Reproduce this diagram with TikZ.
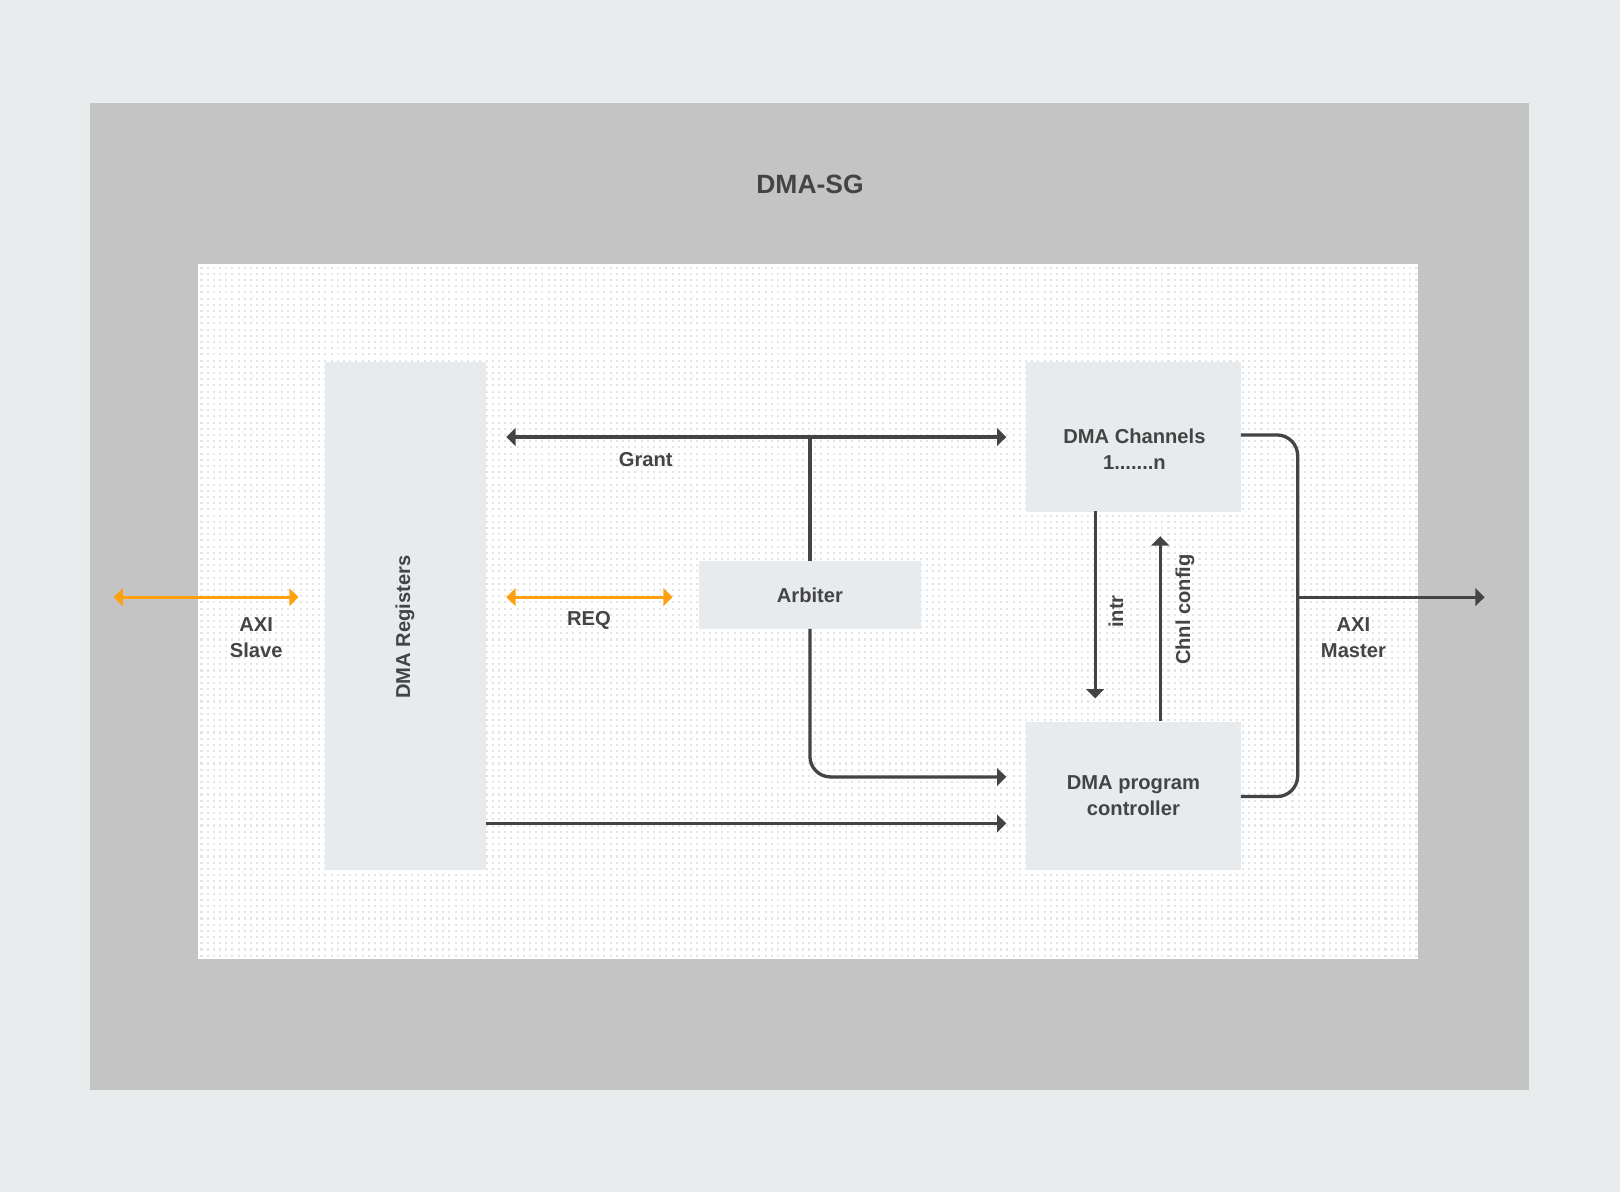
\documentclass[tikz,border=0pt]{standalone}
\usepackage{fontspec}
\setmainfont{Liberation Sans}
\usetikzlibrary{arrows.meta}
\definecolor{bgcol}{HTML}{E8ECED}
\definecolor{outercol}{HTML}{C4C4C4}
\definecolor{boxcol}{HTML}{E8EBED}
\definecolor{inkcol}{HTML}{444444}
\definecolor{orangecol}{HTML}{FFA010}
\definecolor{dotcol}{HTML}{E4E4E4}
\tikzset{
  blk/.style={fill=boxcol, draw=none, inner sep=0pt, anchor=north west},
  lbl/.style={text=inkcol, font=\fontsize{9.75}{12.5}\selectfont\bfseries, align=center, inner sep=0pt},
  conn/.style={draw=inkcol, line width=1.6pt, -{Triangle[length=4.5pt,width=8.5pt]}},
  plain/.style={draw=inkcol, line width=1.6pt},
  biconn/.style={draw=inkcol, line width=1.6pt, {Triangle[length=4.5pt,width=8.5pt]}-{Triangle[length=4.5pt,width=8.5pt]}},
  orbi/.style={draw=orangecol, line width=1.6pt, {Triangle[length=4.5pt,width=8.5pt]}-{Triangle[length=4.5pt,width=8.5pt]}},
}
\begin{document}
\begin{tikzpicture}[x=0.5pt,y=-0.5pt]
\useasboundingbox (0,0) rectangle (1568,1154);
\fill[bgcol] (0,0) rectangle (1568,1154);
\fill[outercol] (87,100) rectangle (1480,1055);
\fill[white] (192,256) rectangle (1372,928);
\begin{scope}
\clip (192,256) rectangle (1372,928);
\foreach \yy in {259,265,...,925}{
  \draw[dotcol, line width=1pt, dash pattern=on 1pt off 2pt] (194,\yy) -- (1372,\yy);
}
\end{scope}
\node[lbl, font=\fontsize{12.8}{15}\selectfont\bfseries] (title) at (784,178) {DMA-SG};
% blocks
\node[blk, minimum width=78pt, minimum height=246pt] (reg) at (314,350) {};
\node[blk, minimum width=104pt, minimum height=72.5pt] (chan) at (993,350) {};
\node[blk, minimum width=107.5pt, minimum height=32.5pt] (arb) at (676,543) {};
\node[blk, minimum width=104pt, minimum height=72pt] (ctrl) at (993,698) {};
\node[lbl, rotate=90] (regtxt) at (392,607) {DMA Registers};
\node[lbl] (chantxt) at (1098,435) {DMA Channels\\1.......n};
\node[lbl] (arbtxt) at (arb.center) {Arbiter};
\node[lbl] (ctrltxt) at (1097,770) {DMA program\\controller};
% coordinates
\coordinate (gl) at (490,423);
\coordinate (gr) at (974,423);
\coordinate (gj) at (784,423);
\coordinate (reql) at (490,578);
\coordinate (reqr) at (651,578);
\coordinate (sl) at (110,578);
\coordinate (sr) at (289,578);
\coordinate (ain) at (974,752);
\coordinate (rin) at (974,797);
\coordinate (rout) at (470,797);
\coordinate (intrs) at (1060,495);
\coordinate (intre) at (1060,676);
\coordinate (cfgs) at (1123,698);
\coordinate (cfge) at (1123,519);
\coordinate (chout) at (1201,421);
\coordinate (ctout) at (1201,771);
\coordinate (busx) at (1256,578);
\coordinate (mout) at (1437,578);
% connectors
\draw[biconn] (gl) -- (gr);
\draw[plain] (arb.north -| gj) -- (gj);
\draw[orbi] (reql) -- (reqr);
\draw[orbi] (sl) -- (sr);
\draw[conn, rounded corners=10pt] (arb.south) |- (ain);
\draw[conn] (rout) -- (rin);
\draw[conn] (intrs) -- (intre);
\draw[conn] (cfgs) -- (cfge);
\draw[plain, rounded corners=10pt] (chout) -| (busx) |- (ctout);
\draw[conn] (busx) -- (mout);
% labels
\node[lbl] (grant) at (625,445) {Grant};
\node[lbl] (req) at (570,601) {REQ};
\node[lbl] (axis) at (248,617) {AXI\\Slave};
\node[lbl] (axim) at (1310,617) {AXI\\Master};
\node[lbl, rotate=90] (intr) at (1080,592) {intr};
\node[lbl, rotate=90] (cfg) at (1147,590) {Chnl config};
\end{tikzpicture}
\end{document}
